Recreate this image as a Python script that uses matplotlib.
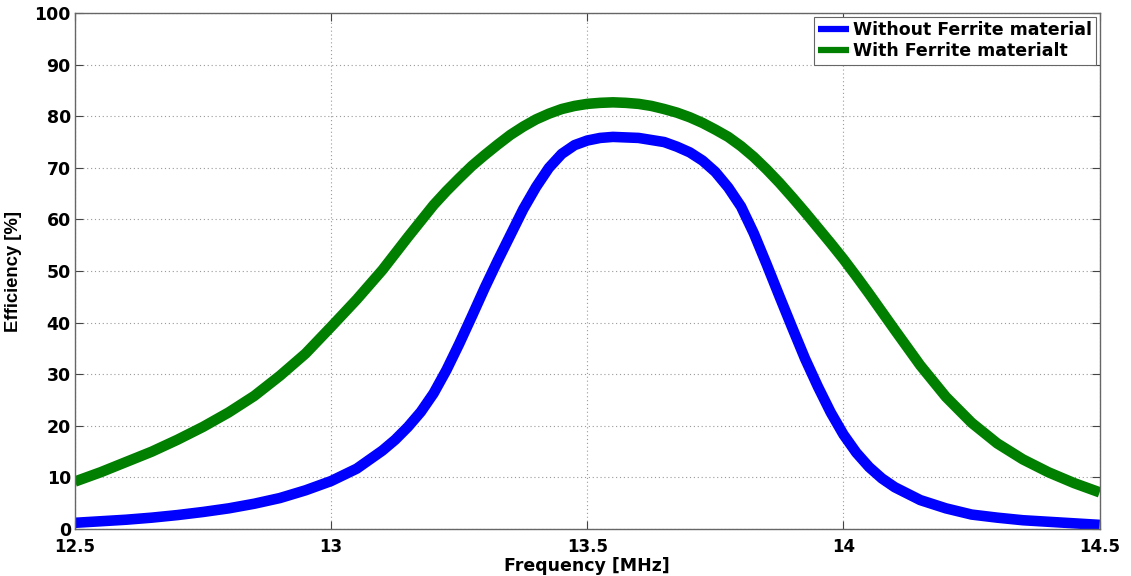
import matplotlib
matplotlib.use("Agg")
import matplotlib.pyplot as plt

# Frequency sweep (MHz): coarser on the tails, finer around resonance
freq = [12.50, 12.55, 12.60, 12.65, 12.70, 12.75, 12.80, 12.85, 12.90, 12.95,
        13.00, 13.05, 13.10,
        13.125, 13.150, 13.175, 13.200, 13.225, 13.250, 13.275, 13.300,
        13.325, 13.350, 13.375, 13.400, 13.425, 13.450, 13.475, 13.500,
        13.525, 13.550, 13.575, 13.600, 13.625, 13.650, 13.675, 13.700,
        13.725, 13.750, 13.775, 13.800, 13.825, 13.850, 13.875, 13.900,
        13.925, 13.950, 13.975, 14.000, 14.025, 14.050, 14.075, 14.100,
        14.15, 14.20, 14.25, 14.30, 14.35, 14.40, 14.45, 14.50]

# Efficiency (%) without ferrite material
eff_no_ferrite = [1.2, 1.5, 1.8, 2.2, 2.7, 3.3, 4.0, 4.9, 6.0, 7.5,
                  9.3, 11.7, 15.2,
                  17.3, 19.8, 22.7, 26.3, 30.8, 35.9, 41.3, 46.8,
                  52.0, 57.0, 62.0, 66.3, 70.0, 72.7, 74.4, 75.3,
                  75.8, 76.0, 75.9, 75.8, 75.4, 75.0, 74.1, 73.0,
                  71.4, 69.2, 66.2, 62.5, 57.3, 51.3, 45.1, 39.0,
                  33.0, 27.6, 22.6, 18.3, 14.8, 12.0, 9.8, 8.1,
                  5.6, 4.0, 2.8, 2.2, 1.7, 1.4, 1.1, 0.8]

# Efficiency (%) with ferrite material
eff_ferrite = [9.2, 11.0, 13.0, 15.0, 17.3, 19.8, 22.6, 25.8, 29.7, 34.0,
               39.2, 44.5, 50.2,
               53.4, 56.6, 59.7, 62.8, 65.5, 68.0, 70.4, 72.5,
               74.5, 76.4, 78.0, 79.4, 80.5, 81.4, 82.0, 82.4,
               82.6, 82.7, 82.6, 82.4, 82.0, 81.4, 80.7, 79.8,
               78.7, 77.4, 76.0, 74.2, 72.1, 69.7, 67.1, 64.3,
               61.4, 58.4, 55.4, 52.3, 49.0, 45.6, 42.1, 38.6,
               31.7, 25.6, 20.6, 16.6, 13.5, 11.0, 8.9, 7.1]

series_labels = ["Without Ferrite material", "With Ferrite materialt"]
x_ticks = [12.5, 13, 13.5, 14, 14.5]
x_tick_labels = ["12.5", "13", "13.5", "14", "14.5"]
y_ticks = list(range(0, 101, 10))

plt.rcParams["font.family"] = ["DejaVu Sans"]
plt.rcParams["font.weight"] = "bold"

fig = plt.figure(figsize=(11.31, 5.76), dpi=100)
ax = fig.add_axes([0.0663, 0.0816, 0.9060, 0.8957])

ax.plot(freq, eff_no_ferrite, color="#0000ff", lw=7.6, label=series_labels[0],
        solid_capstyle="butt", solid_joinstyle="round")
ax.plot(freq, eff_ferrite, color="#007f00", lw=7.6, label=series_labels[1],
        solid_capstyle="butt", solid_joinstyle="round")

ax.set_xlim(12.5, 14.5)
ax.set_ylim(0, 100)
ax.set_xticks(x_ticks)
ax.set_xticklabels(x_tick_labels)
ax.set_yticks(y_ticks)

ax.grid(True, color="#9a9a9a", linestyle=(0, (1, 2.5)), linewidth=0.8)
ax.tick_params(direction="in", length=6, width=0.8, color="#444444",
               top=True, right=True, labelsize=12.5)
ax.tick_params(axis="x", pad=6.5, labelsize=12)
ax.tick_params(axis="y", pad=3)
for lbl in ax.get_xticklabels() + ax.get_yticklabels():
    lbl.set_fontweight("bold")
for sp in ax.spines.values():
    sp.set_color("#666666")
    sp.set_linewidth(1.0)

ax.set_xlabel("Frequency [MHz]", fontsize=12.5, fontweight="bold", labelpad=0.5)
ax.set_ylabel("Efficiency [%]", fontsize=13.3, fontweight="bold",
              family=["Liberation Sans", "DejaVu Sans"], labelpad=9)

leg = ax.legend(loc="upper right", fontsize=12.5, handlelength=1.75,
                handletextpad=0.25, borderpad=0.25, labelspacing=0.2,
                fancybox=False, framealpha=1, borderaxespad=0.2)
leg.get_frame().set_edgecolor("#666666")
leg.get_frame().set_linewidth(0.8)
for t in leg.get_texts():
    t.set_fontweight("bold")
for h in leg.get_lines():
    h.set_linewidth(4.5)
    h.set_solid_capstyle("butt")

fig.savefig("out.png", dpi=100)
